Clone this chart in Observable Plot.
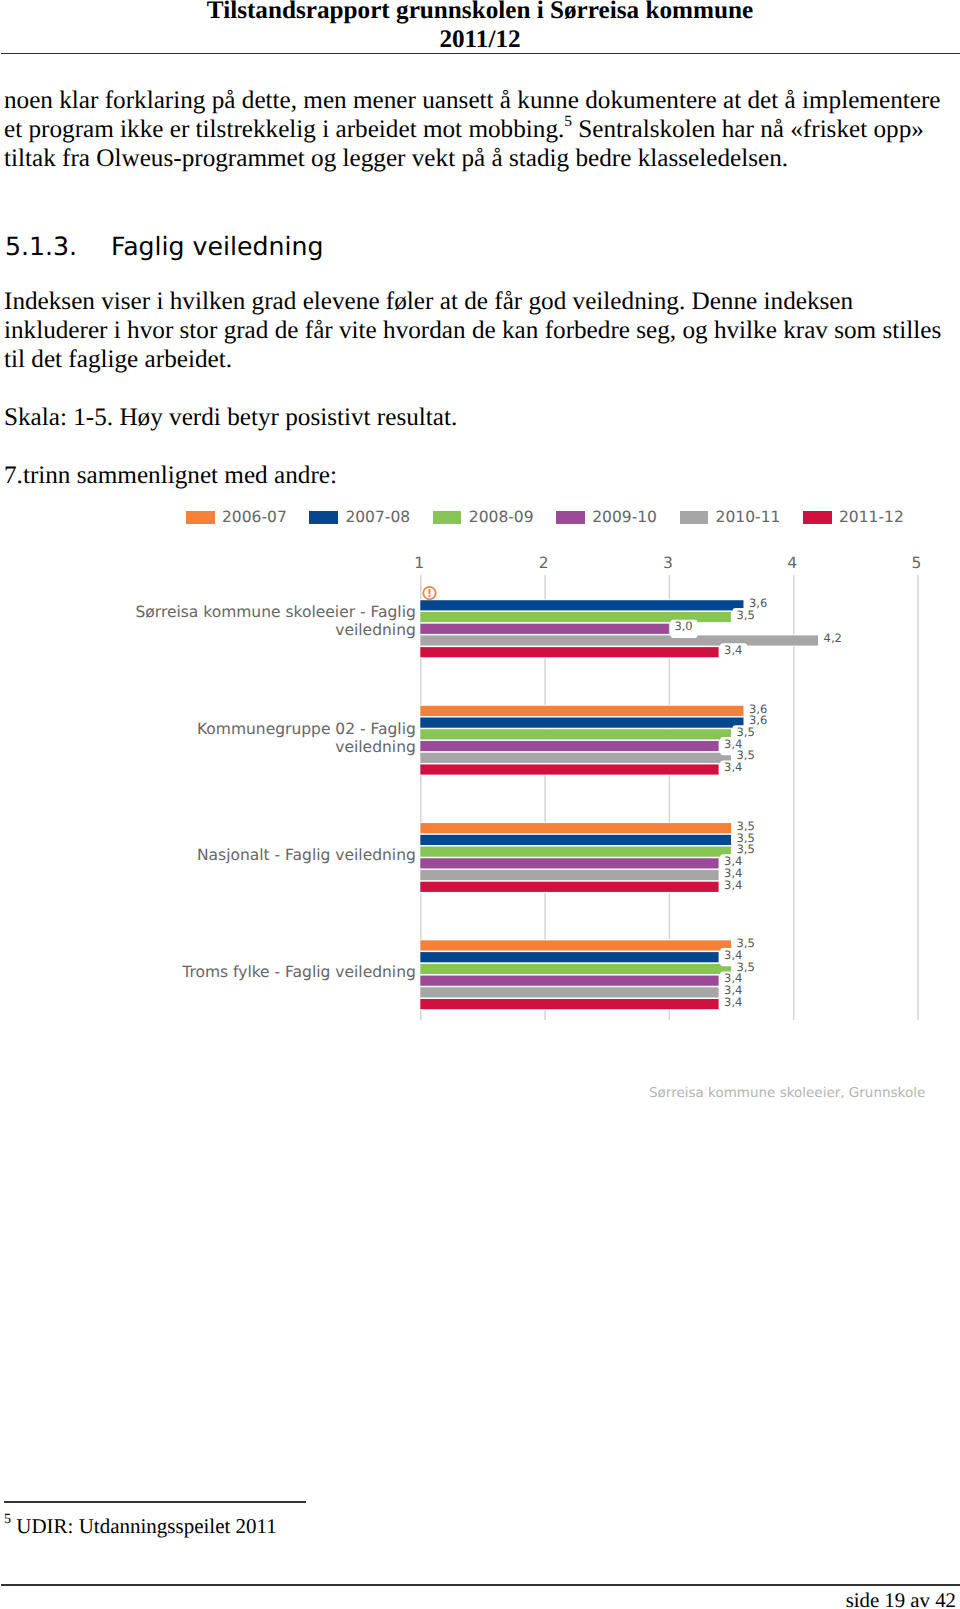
<!DOCTYPE html>
<html><head><meta charset="utf-8">
<script src="https://cdn.jsdelivr.net/npm/d3@7"></script>
<script src="https://cdn.jsdelivr.net/npm/@observablehq/plot@0.6"></script>
<style>
html,body{margin:0;padding:0;background:#fff}
body{position:relative;width:960px;height:1609px;overflow:hidden;text-rendering:geometricPrecision}
.t{position:absolute;white-space:nowrap;font-family:"Liberation Serif",serif;font-size:25.2px;line-height:29px;color:#000}
.r{position:absolute;background:#333;height:1.5px}
#chart{position:absolute;left:0;top:0}
#legend span{position:absolute}
sup{line-height:0;position:relative;top:-2px;vertical-align:super}
</style></head><body>
<div class="t" style="left:0;width:960px;text-align:center;top:-4px;font-weight:bold">Tilstandsrapport grunnskolen i Sørreisa kommune</div>
<div class="t" style="left:0;width:960px;text-align:center;top:25px;font-weight:bold">2011/12</div>
<div class="r" style="left:1px;width:959px;top:52.5px"></div>
<div class="t" style="left:4px;top:86px">noen klar forklaring på dette, men mener uansett å kunne dokumentere at det å implementere</div>
<div class="t" style="left:4px;top:115px">et program ikke er tilstrekkelig i arbeidet mot mobbing.<sup style="font-size:15.5px">5</sup> Sentralskolen har nå «frisket opp»</div>
<div class="t" style="left:4px;top:144px">tiltak fra Olweus-programmet og legger vekt på å stadig bedre klasseledelsen.</div>
<div class="t" style="left:5px;top:232px;font-family:'DejaVu Sans'">5.1.3.</div>
<div class="t" style="left:111px;top:232px;font-family:'DejaVu Sans'">Faglig veiledning</div>
<div class="t" style="left:4px;top:287px">Indeksen viser i hvilken grad elevene føler at de får god veiledning. Denne indeksen</div>
<div class="t" style="left:4px;top:316px">inkluderer i hvor stor grad de får vite hvordan de kan forbedre seg, og hvilke krav som stilles</div>
<div class="t" style="left:4px;top:345px">til det faglige arbeidet.</div>
<div class="t" style="left:4px;top:403px">Skala: 1-5. Høy verdi betyr posistivt resultat.</div>
<div class="t" style="left:4px;top:461px">7.trinn sammenlignet med andre:</div>
<div id="legend"></div>
<div id="chart"></div>
<div class="t" style="left:649px;top:1081px;font-family:'DejaVu Sans';font-size:13.5px;line-height:24px;color:#b5b5b5">Sørreisa kommune skoleeier, Grunnskole</div>
<div class="r" style="left:4px;width:302px;top:1501px"></div>
<div class="t" style="left:4px;top:1512px;font-size:21px"><sup style="font-size:14px">5</sup> UDIR: Utdanningsspeilet 2011</div>
<div class="r" style="left:1px;width:959px;top:1584px"></div>
<div class="t" style="right:4px;top:1586px;font-size:20.8px">side 19 av 42</div>
<script>
const seasons = ["2006-07","2007-08","2008-09","2009-10","2010-11","2011-12"];
const colors = ["#f58137","#04478f","#88c557","#9b4a97","#a6a6a6","#d0103f"];
const groups = ["Sørreisa kommune skoleeier - Faglig\nveiledning","Kommunegruppe 02 - Faglig\nveiledning","Nasjonalt - Faglig veiledning","Troms fylke - Faglig veiledning"];
const sorreisa = [null,3.6,3.5,3.0,4.2,3.4];
const kommunegruppe = [3.6,3.6,3.5,3.4,3.5,3.4];
const nasjonalt = [3.5,3.5,3.5,3.4,3.4,3.4];
const troms = [3.5,3.4,3.5,3.4,3.4,3.4];
const series = [sorreisa,kommunegruppe,nasjonalt,troms];
const ticks = [1,2,3,4,5];

const slot = (g,s)=>g+"|"+s;
const domain = [];
groups.forEach((g,gi)=>{
  domain.push(slot(gi,"a"),slot(gi,"b"));
  seasons.forEach(s=>domain.push(slot(gi,s)));
  domain.push(slot(gi,"c"),slot(gi,"d"));
});
const rows = [];
series.forEach((vals,gi)=>{
  vals.forEach((v,si)=>{ if(v!=null) rows.push({key:slot(gi,seasons[si]),season:seasons[si],value:v,label:v.toFixed(1).replace(".",",")}); });
});
const groupLabels = groups.map((g,gi)=>({key:slot(gi,seasons[3]),label:g}));
const alert = [{key:slot(0,seasons[0]),x:1.07}];

const plot = Plot.plot({
  width:960,height:1030,
  marginLeft:420,marginRight:42.5,marginTop:575,marginBottom:10,
  style:{background:"transparent",fontFamily:"DejaVu Sans"},
  x:{domain:[1,5],range:[420.3,917.5],axis:null},
  y:{type:"band",domain,range:[563.5,1034.2],padding:0.13,round:false,axis:null},
  color:{domain:seasons,range:colors},
  marks:[
    Plot.ruleX(ticks,{x:d=>d,stroke:"#d4d4d4",strokeWidth:1.5}),
    Plot.axisX(ticks,{anchor:"top",tickSize:0,tickPadding:8,tickFormat:d=>d,fontSize:15.5,color:"#666",label:null,dx:-1.5}),
    Plot.barX(rows,{y:"key",x1:1,x2:"value",fill:"white",insetTop:-1,insetBottom:-1,insetLeft:-2}),
    Plot.barX(rows,{y:"key",x1:1,x2:"value",fill:"season"}),
    Plot.barX(rows,{y:"key",x1:d=>d.value+0.012,x2:d=>d.value+0.23,fill:"white",insetTop:-4,insetBottom:-4,rx:3}),
    Plot.text(rows,{y:"key",x:"value",text:"label",textAnchor:"start",dx:5,dy:-2.5,fontSize:11.5,fill:"#555"}),
    Plot.text(groupLabels,{y:"key",x:1,text:"label",textAnchor:"end",dx:-5,dy:-9.5,fontSize:15.5,lineHeight:1.16,fill:"#666",lineWidth:100}),
    Plot.dot(alert,{y:"key",x:"x",r:6.2,stroke:"#ef8548",fill:"white",strokeWidth:1.8,dy:-1}),
    Plot.text(alert,{y:"key",x:"x",text:()=>"!",fill:"#ef8548",fontSize:11,fontWeight:"bold",dy:-1})
  ]
});
document.getElementById("chart").appendChild(plot);

const leg = document.getElementById("legend");
const step = 123.4;
seasons.forEach((s,i)=>{
  const x = 186+i*step;
  const sw = document.createElement("span");
  sw.style.cssText=`left:${x}px;top:511px;width:28.5px;height:12.5px;background:${colors[i]}`;
  const tx = document.createElement("span");
  tx.style.cssText=`left:${x+36}px;top:506px;font:15.5px/22px 'DejaVu Sans';color:#666;white-space:nowrap`;
  tx.textContent=s;
  leg.append(sw,tx);
});
</script>
</body></html>
